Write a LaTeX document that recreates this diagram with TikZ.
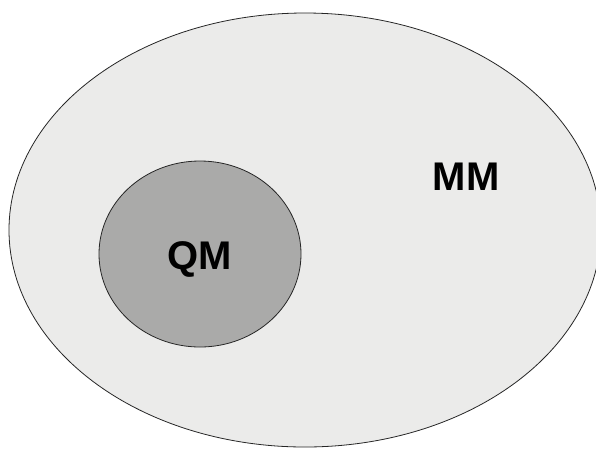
\documentclass[tikz,border=0pt]{standalone}
\usepackage{fontspec}
\setmainfont{Liberation Sans}
\usetikzlibrary{shapes.geometric}

\begin{document}
\begin{tikzpicture}[x=1pt,y=-1pt,
            set/.style = {ellipse,
                draw=black!85,
                line width=0.8pt,
                inner sep=0pt,
                },
            setname/.style = {anchor=base,
                font=\bfseries\fontsize{40}{40}\selectfont,
                }]

        \useasboundingbox (0,0) rectangle (596,448);
        \clip (0,0) rectangle (596,448);

        % Set MM
        \node[set,fill={rgb,255:red,235;green,235;blue,234},
              minimum width=592pt,minimum height=434pt] (MM) at (305,230) {};

        % Set QM
        \node[set,fill={rgb,255:red,170;green,170;blue,169},
              minimum width=202pt,minimum height=186pt] (QM) at (200,254) {};

        % Names
        \node[setname] (MMname) at (466,190) {MM};
        \node[setname] (QMname) at (200,269) {QM};

        \end{tikzpicture}
\end{document}
